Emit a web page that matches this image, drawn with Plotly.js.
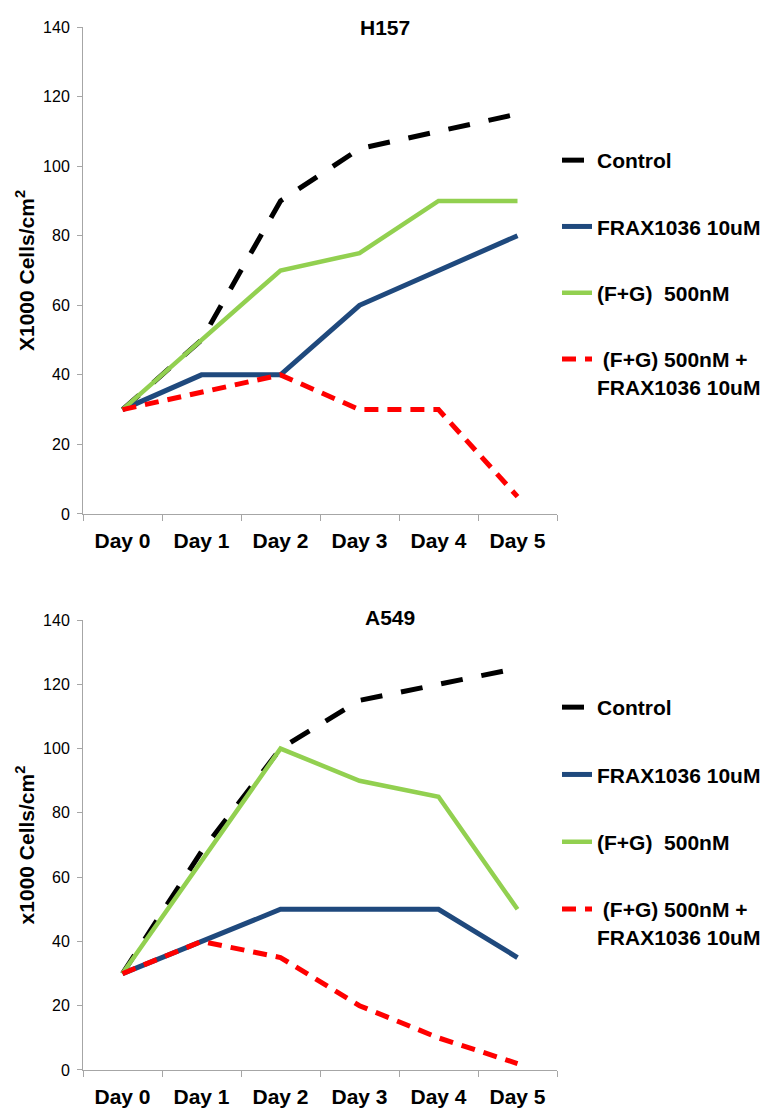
<!DOCTYPE html>
<html>
<head>
<meta charset="utf-8">
<script src="https://cdn.plot.ly/plotly-3.0.1.min.js"></script>
<style>html,body{margin:0;padding:0;background:#fff;}#chart{width:769px;height:1108px;}</style>
</head>
<body>
<div id="chart"></div>
<script>
const days = ["Day 0", "Day 1", "Day 2", "Day 3", "Day 4", "Day 5"];
const seriesNames = ["Control", "FRAX1036 10uM", "(F+G)  500nM", " (F+G) 500nM +<br>FRAX1036 10uM"];

const h157Control = [30, 50, 90, 105, 110, 115];
const h157Frax = [30, 40, 40, 60, 70, 80];
const h157FG = [30, 50, 70, 75, 90, 90];
const h157Combo = [30, 35, 40, 30, 30, 5];

const a549Control = [30, 68, 100, 115, 120, 125];
const a549Frax = [30, 40, 50, 50, 50, 35];
const a549FG = [30, 65, 100, 90, 85, 50];
const a549Combo = [30, 40, 35, 20, 10, 2];

const yTicks = [0, 20, 40, 60, 80, 100, 120, 140];

const styles = [
  {color: "#000000", width: 5, dash: "22px,19px"},
  {color: "#1F497D", width: 5, dash: "solid"},
  {color: "#92D050", width: 4.5, dash: "solid"},
  {color: "#FF0000", width: 5, dash: "14px,9px"}
];

function makeTraces(sets, xa, ya, legendId, grpPrefix) {
  return sets.map((vals, i) => ({
    type: "scatter",
    mode: "lines",
    x: days,
    y: vals,
    name: seriesNames[i],
    xaxis: xa,
    yaxis: ya,
    legend: legendId,
    legendgroup: grpPrefix + i,
    line: {color: styles[i].color, width: styles[i].width, dash: styles[i].dash},
    hoverinfo: "skip"
  }));
}

const traces = [].concat(
  makeTraces([h157Control, h157Frax, h157FG, h157Combo], "x", "y", "legend", "a"),
  makeTraces([a549Control, a549Frax, a549FG, a549Combo], "x2", "y2", "legend2", "b")
);

const fontFam = "Liberation Sans, Arial, Helvetica, sans-serif";

function xAxis(anchor) {
  return {
    type: "category",
    anchor: anchor,
    domain: [0, 1],
    range: [-0.5, 5.5],
    showgrid: false,
    zeroline: false,
    showline: true,
    linecolor: "#A6A6A6",
    linewidth: 1,
    ticks: "outside",
    tickson: "boundaries",
    ticklen: 6,
    tickcolor: "#A6A6A6",
    tickfont: {family: fontFam, size: 21, color: "#000", weight: "bold"},
    ticklabelstandoff: 8,
    fixedrange: true
  };
}
function yAxis(anchor, domain, title) {
  return {
    anchor: anchor,
    domain: domain,
    range: [0, 140],
    tickvals: yTicks,
    ticktext: yTicks.map(String),
    showgrid: false,
    zeroline: false,
    showline: true,
    linecolor: "#A6A6A6",
    linewidth: 1,
    ticks: "outside",
    ticklen: 5,
    tickcolor: "#A6A6A6",
    tickfont: {family: fontFam, size: 16, color: "#000"},
    ticklabelstandoff: 4,
    title: {text: title, font: {family: fontFam, size: 21, color: "#000", weight: "bold"}, standoff: 2},
    fixedrange: true
  };
}

const legendFont = {family: fontFam, size: 21, color: "#000", weight: "bold"};

const layout = {
  width: 769,
  height: 1108,
  margin: {l: 83, r: 212, t: 27, b: 38, autoexpand: false},
  paper_bgcolor: "#fff",
  plot_bgcolor: "#fff",
  font: {family: fontFam, color: "#000"},
  showlegend: true,
  xaxis: xAxis("y"),
  yaxis: yAxis("x", [0.5331, 1], "X1000 Cells/cm<sup>2</sup>"),
  xaxis2: xAxis("y2"),
  yaxis2: yAxis("x2", [0, 0.4314], "x1000 Cells/cm<sup>2</sup>"),
  legend: {
    x: 1.0, xanchor: "left", y: 1 - (140 - 27) / 1043, yanchor: "top",
    font: legendFont, tracegroupgap: 36, bgcolor: "rgba(0,0,0,0)",
    itemwidth: 30, traceorder: "grouped", valign: "top"
  },
  legend2: {
    x: 1.0, xanchor: "left", y: 1 - (687 - 27) / 1043, yanchor: "top",
    font: legendFont, tracegroupgap: 37, bgcolor: "rgba(0,0,0,0)",
    itemwidth: 30, traceorder: "grouped", valign: "top"
  },
  annotations: [
    {text: "H157", xref: "paper", yref: "paper", x: 0.637, y: 1, xanchor: "center", yanchor: "middle", showarrow: false,
     font: {family: fontFam, size: 21, color: "#000", weight: "bold"}},
    {text: "A549", xref: "paper", yref: "paper", x: 0.648, y: 0.4314 + 3/1043, xanchor: "center", yanchor: "middle", showarrow: false,
     font: {family: fontFam, size: 21, color: "#000", weight: "bold"}}
  ]
};

Plotly.newPlot("chart", traces, layout, {staticPlot: true, displayModeBar: false});
</script>
</body>
</html>
